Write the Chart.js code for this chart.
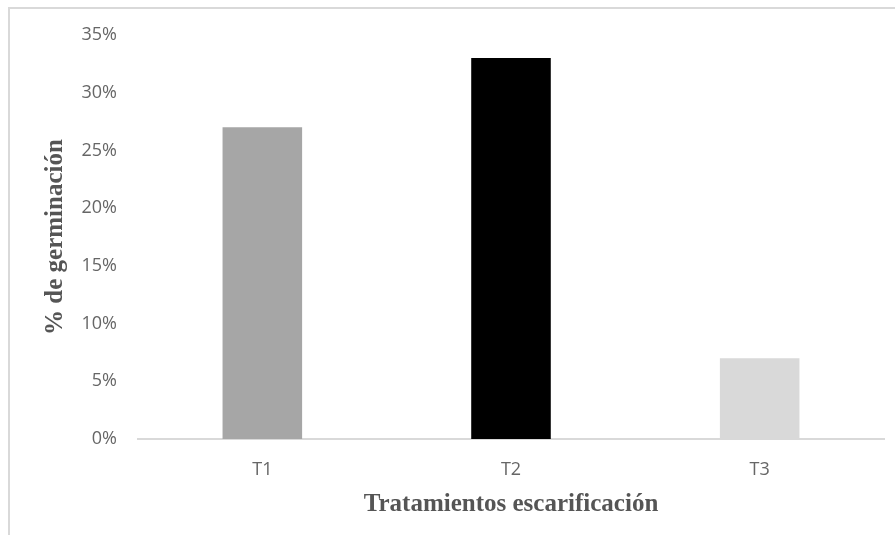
<!DOCTYPE html>
<html>
<head>
<meta charset="utf-8">
<script src="https://cdn.jsdelivr.net/npm/chart.js@4.4.1/dist/chart.umd.min.js"></script>
<style>
  body { margin: 0; background: #fff; }
  #wrap { position: relative; width: 895px; height: 535px; }
  #frame { position: absolute; left: 8px; top: 7px; right: 0; bottom: 0;
           border-top: 2px solid #d9d9d9; border-left: 2px solid #d9d9d9; }
  canvas { position: absolute; left: 0; top: 0; }
</style>
</head>
<body>
<div id="wrap">
  <div id="frame"></div>
  <canvas id="germChart" width="895" height="535"></canvas>
</div>
<script>
const categorias = ['T1', 'T2', 'T3'];
const germinacion = [27, 33, 7];
const colores = ['#a6a6a6', '#000000', '#d9d9d9'];
const tituloX = 'Tratamientos escarificación';
const tituloY = '% de germinación';

const ctx = document.getElementById('germChart').getContext('2d');
new Chart(ctx, {
  type: 'bar',
  data: {
    labels: categorias,
    datasets: [{
      data: germinacion,
      backgroundColor: colores,
      barPercentage: 0.32,
      categoryPercentage: 1
    }]
  },
  options: {
    responsive: false,
    animation: false,
    layout: { padding: { left: 37, right: 11, top: 35, bottom: 13 } },
    plugins: { legend: { display: false }, tooltip: { enabled: false } },
    scales: {
      x: {
        grid: { display: false, drawTicks: false },
        border: { display: true, color: '#d9d9d9', width: 2 },
        ticks: { color: '#666', padding: 20, font: { family: 'Open Sans', size: 18 } },
        title: {
          display: true, text: tituloX, color: '#555',
          padding: { top: 0, bottom: 2 },
          font: { family: 'Liberation Serif', size: 25, weight: 'bold' }
        },
        afterFit: scale => { scale.height = 535 - 439 - 13; }
      },
      y: {
        min: 0, max: 35,
        grid: { display: false, drawTicks: false },
        border: { display: false },
        ticks: {
          stepSize: 5, color: '#666', padding: 21,
          font: { family: 'Open Sans', size: 18 },
          callback: v => v + '%'
        },
        title: {
          display: true, text: tituloY, color: '#555',
          padding: { top: 4, bottom: 0 },
          font: { family: 'Liberation Serif', size: 25, weight: 'bold' }
        },
        afterFit: scale => { scale.width = 138 - 37; }
      }
    }
  }
});
</script>
</body>
</html>
